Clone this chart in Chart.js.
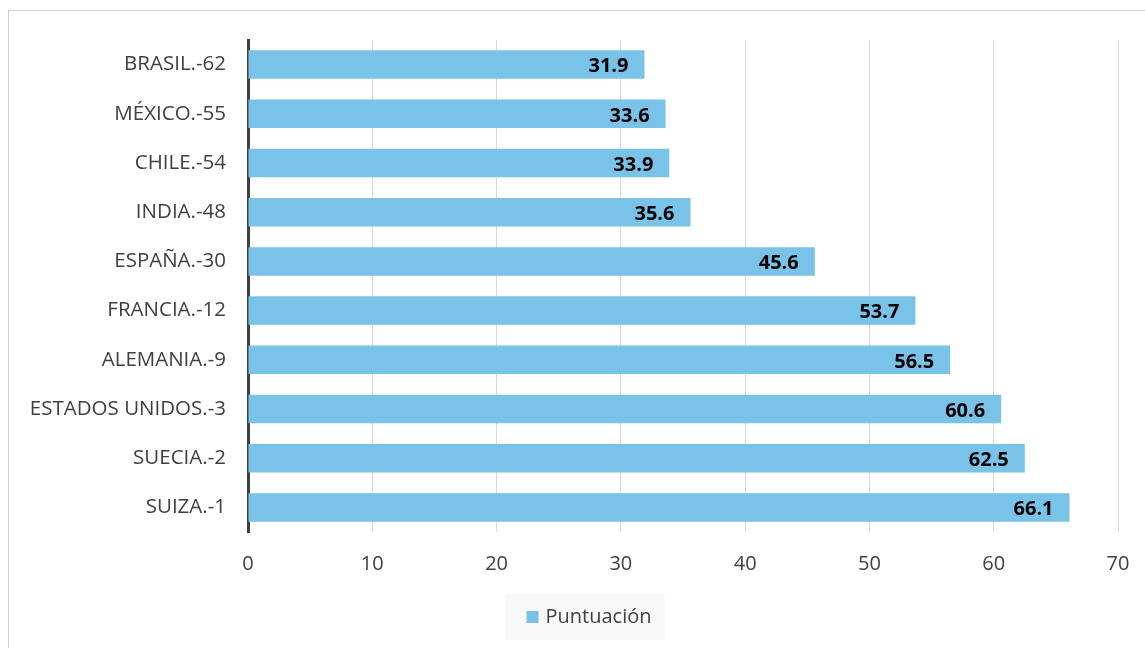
<!DOCTYPE html>
<html>
<head>
<meta charset="utf-8">
<script src="https://cdn.jsdelivr.net/npm/chart.js@4"></script>
<style>
    html, body { margin: 0; padding: 0; background: #ffffff; }
    #wrap { position: relative; width: 1145px; height: 648px; }
    #marco { position: absolute; left: 8px; top: 10px; width: 1145px; height: 650px; border: 1px solid #d0d0d0; box-sizing: border-box; }
    #wrap canvas { position: absolute; left: 0; top: 0; }
</style>
</head>
<body>
<div id="wrap">
    <div id="marco"></div>
    <canvas id="grafico"></canvas>
</div>
<script>
// Países con su posición en el ranking, de arriba hacia abajo
const paises = ["BRASIL.-62", "MÉXICO.-55", "CHILE.-54", "INDIA.-48", "ESPAÑA.-30",
    "FRANCIA.-12", "ALEMANIA.-9", "ESTADOS UNIDOS.-3", "SUECIA.-2", "SUIZA.-1"];
// Puntuación de cada país
const puntuacion = [31.9, 33.6, 33.9, 35.6, 45.6, 53.7, 56.5, 60.6, 62.5, 66.1];
const nombreSerie = "Puntuación";
const ejeMin = 0;
const ejeMax = 70;
const paso = 10;

const azul = "#79c2e8";
const textoGris = "#404040";
const fuente = "'Open Sans', 'DejaVu Sans', sans-serif";

// Etiqueta con el valor dentro del extremo de cada barra
const etiquetasValor = {
    id: "etiquetasValor",
    afterDatasetsDraw(chart) {
        const ctx = chart.ctx;
        const meta = chart.getDatasetMeta(0);
        ctx.save();
        ctx.font = "bold 20px " + fuente;
        ctx.fillStyle = "#000000";
        ctx.textAlign = "right";
        ctx.textBaseline = "middle";
        meta.data.forEach((barra, i) => {
            const valor = chart.data.datasets[0].data[i];
            ctx.fillText(valor.toFixed(1), barra.x - 16, barra.y + 2);
        });
        ctx.restore();
    }
};

// Leyenda dibujada a mano, con fondo gris claro
const leyenda = {
    id: "leyenda",
    afterDraw(chart) {
        const ctx = chart.ctx;
        ctx.save();
        ctx.font = "20px " + fuente;
        const texto = chart.data.datasets[0].label;
        const anchoTexto = ctx.measureText(texto).width;
        const caja = 12;
        const ancho = caja + 6 + anchoTexto + 36;
        const cx = chart.width / 2 + 12;
        const x0 = cx - ancho / 2;
        const y0 = 594;
        ctx.fillStyle = "#f8f8f8";
        ctx.fillRect(x0, y0, ancho, 46);
        ctx.fillStyle = azul;
        ctx.fillRect(x0 + 22, y0 + 17, caja, caja);
        ctx.fillStyle = textoGris;
        ctx.textAlign = "left";
        ctx.textBaseline = "middle";
        ctx.fillText(texto, x0 + 22 + caja + 7, y0 + 23);
        ctx.restore();
    }
};

const canvas = document.getElementById("grafico");
new Chart(canvas, {
    type: "bar",
    data: {
        labels: paises,
        datasets: [{
            label: nombreSerie,
            data: puntuacion,
            backgroundColor: azul,
            borderWidth: 0,
            barPercentage: 0.58,
            categoryPercentage: 1.0
        }]
    },
    options: {
        indexAxis: "y",
        responsive: true,
        maintainAspectRatio: false,
        animation: false,
        layout: {
            padding: { top: 40, left: 0, right: 27, bottom: 76 }
        },
        plugins: {
            legend: { display: false },
            tooltip: { enabled: false }
        },
        scales: {
            x: {
                min: ejeMin,
                max: ejeMax,
                ticks: {
                    stepSize: paso,
                    padding: 20,
                    color: textoGris,
                    font: { family: fuente, size: 20 }
                },
                grid: {
                    color: "#d9d9d9",
                    lineWidth: 1,
                    tickLength: 0
                },
                border: { display: false },
                afterFit(scale) {
                    scale.height = 40;
                    scale.paddingLeft = 0;
                    scale.paddingRight = 0;
                }
            },
            y: {
                ticks: {
                    padding: 22,
                    color: textoGris,
                    font: { family: fuente, size: 20.5 }
                },
                grid: { display: false, tickLength: 0 },
                border: { display: true, color: "#404040", width: 3 },
                afterFit(scale) { scale.width = 248; }
            }
        }
    },
    plugins: [etiquetasValor, leyenda]
});
</script>
</body>
</html>
